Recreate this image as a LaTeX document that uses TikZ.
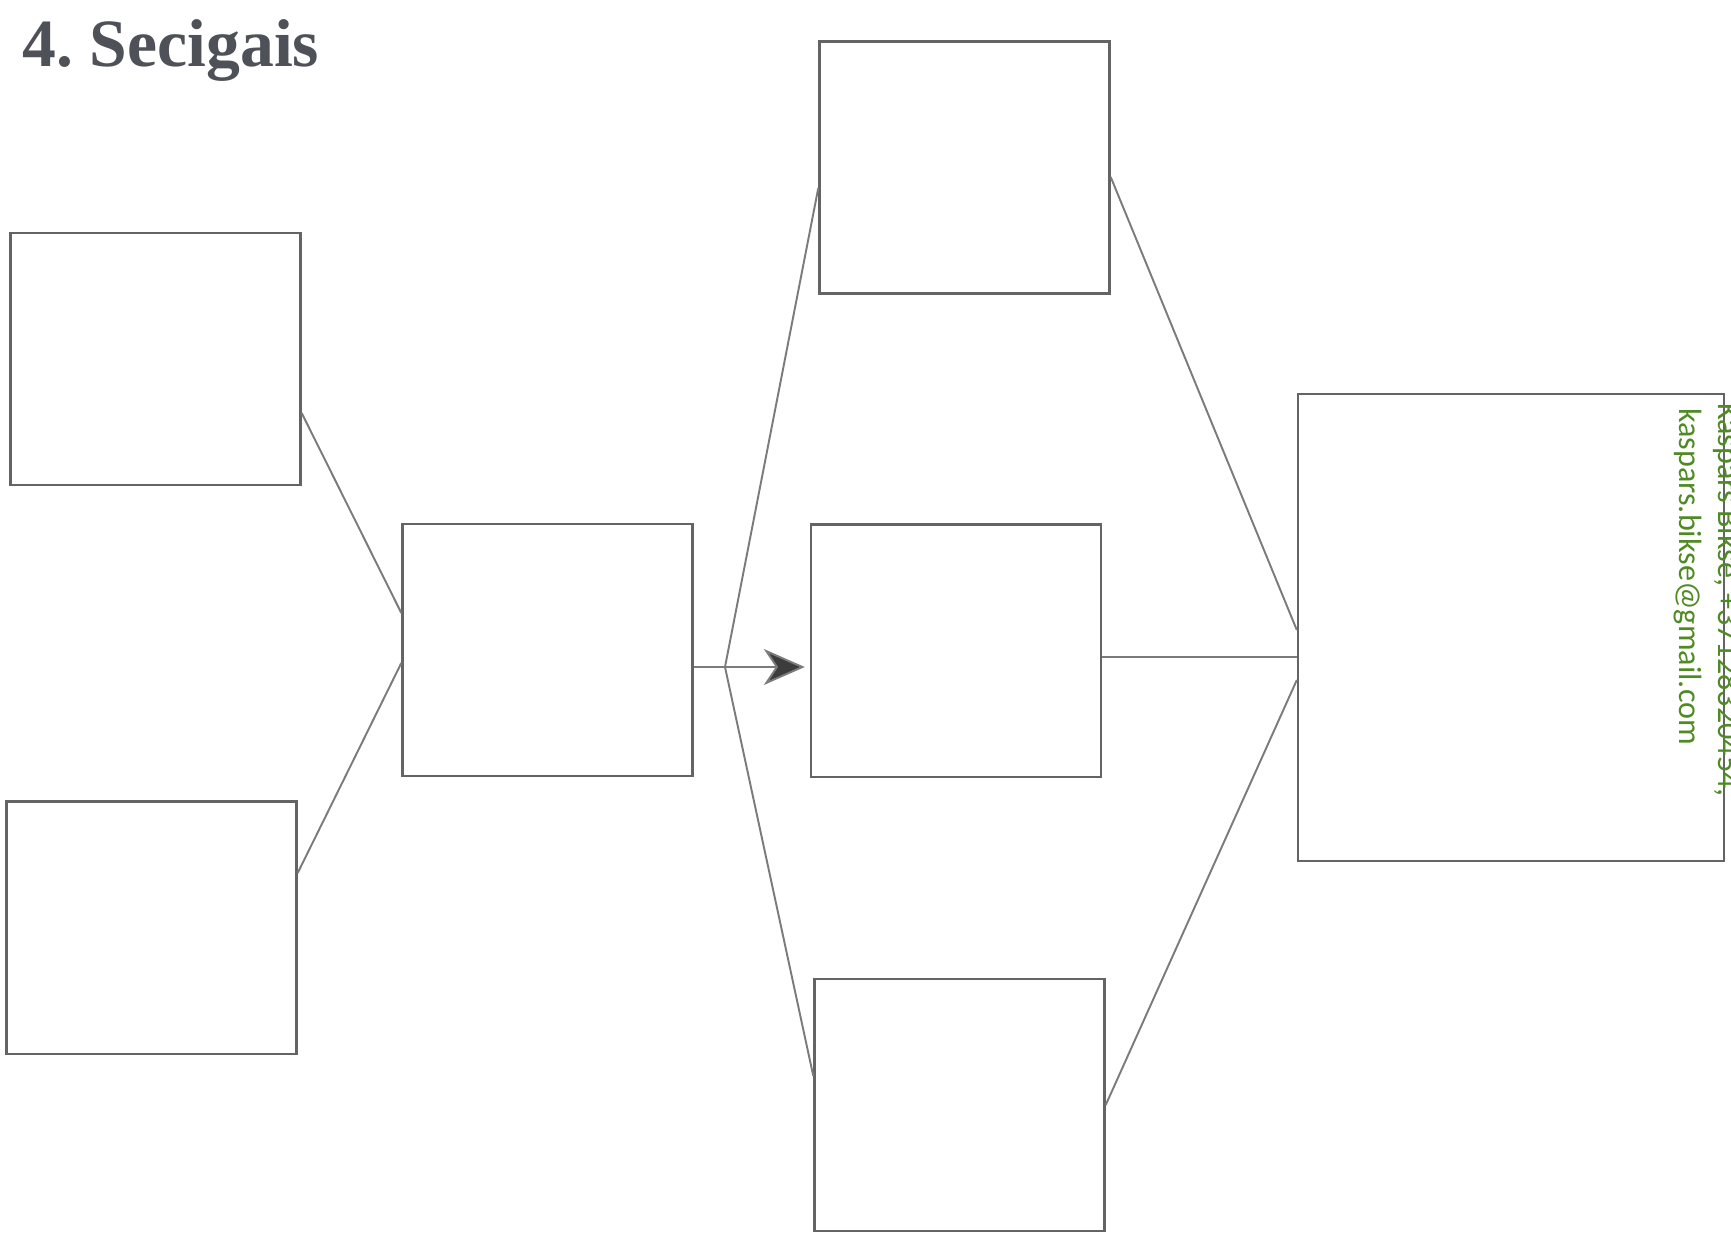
\documentclass[tikz,border=0pt]{standalone}
\usepackage{fontspec}
\setmainfont{Liberation Serif}
\newfontfamily\contactfont{Carlito}
\usetikzlibrary{arrows.meta}
\definecolor{linegray}{RGB}{100,100,100}
\definecolor{titlegray}{RGB}{78,82,88}
\definecolor{contactgreen}{RGB}{80,138,36}

\begin{document}
\begin{tikzpicture}[x=0.02cm, y=-0.02cm,
    box/.style={rectangle, draw=linegray, line width=1.4pt, inner sep=0pt, minimum width=5.8cm, minimum height=5.05cm},
    link/.style={draw=linegray!85, line width=1.1pt},
    arrow/.style={link, -{Stealth[length=0.82cm, width=0.72cm, inset=0.24cm, fill=linegray!60!black]}, shorten >=0.1cm},
    contact/.style={text=contactgreen, font=\contactfont\fontsize{18.3}{22}\selectfont, rotate=-90, anchor=base west, inner sep=0pt}
]
    \useasboundingbox (0,0) rectangle (1731,1244);
    \node[anchor=base west, inner sep=0pt, text=titlegray, font=\bfseries\fontsize{38.5}{44}\selectfont] (title) at (22,66) {4.\ Secigais};

    % empty boxes
    \node[box] (inA) at (155.5,359) {};
    \node[box] (inB) at (151.5,927.5) {};
    \node[box] (mid) at (547.5,650) {};
    \node[box] (topbox) at (964.5,167.5) {};
    \node[box] (centerbox) at (956,650.5) {};
    \node[box] (bottombox) at (959.5,1105) {};
    \node[box, minimum width=8.52cm, minimum height=9.34cm] (result) at (1511,627.5) {};

    % connectors
    \draw[link] (inA.east |- 0,413) -- (mid.west |- 0,613);
    \draw[link] (inB.east |- 0,873) -- (mid.west |- 0,663);
    \coordinate (fan) at (725,667);
    \draw[arrow] (fan -| mid.east) -- (fan -| centerbox.west);
    \draw[link] (topbox.west |- 0,188) -- (fan) -- (bottombox.west |- 0,1076);
    \draw[link] (topbox.east |- 0,177) -- (result.west |- 0,630);
    \draw[link] (centerbox.east |- 0,657) -- (result.west |- 0,657);
    \draw[link] (bottombox.east |- 0,1105) -- (result.west |- 0,680);

    % contact lines
    \node[contact] (phone) at (1718,403) {Kaspars Bikse, +37128320454,};
    \node[contact] (email) at (1679,408) {kaspars.bikse@gmail.com};
\end{tikzpicture}
\end{document}
